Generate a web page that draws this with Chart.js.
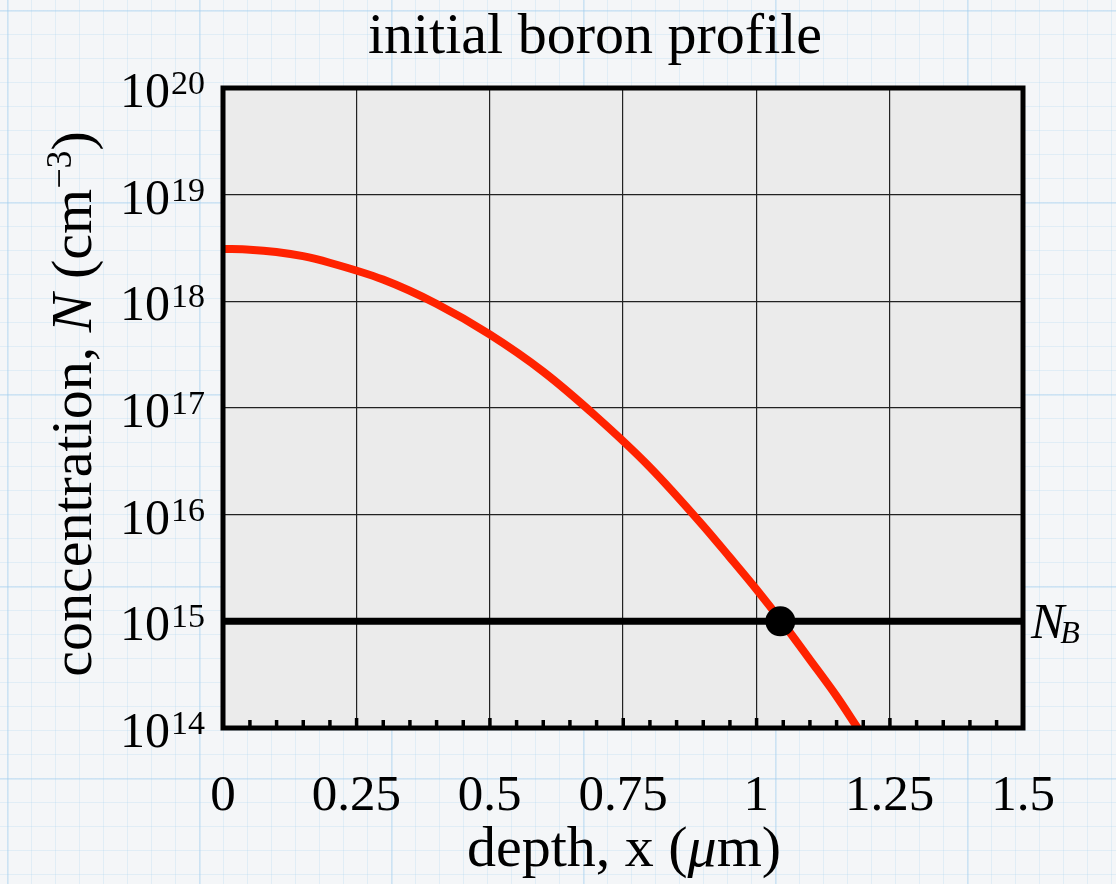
<!DOCTYPE html>
<html lang="en">
<head>
  <meta charset="UTF-8" />
  <title>initial boron profile</title>
  <script src="https://cdn.jsdelivr.net/npm/chart.js"></script>
  <style>
    html, body { margin: 0; padding: 0; }
    body {
      width: 1116px; height: 884px; overflow: hidden;
      background-color: #f4f6f8;
      background-image:
        linear-gradient(to right, rgba(160,205,238,0.3) 2px, transparent 2px),
        linear-gradient(to bottom, rgba(160,205,238,0.3) 2px, transparent 2px),
        linear-gradient(to right, rgba(175,212,240,0.28) 1px, transparent 1px),
        linear-gradient(to bottom, rgba(175,212,240,0.28) 1px, transparent 1px);
      background-size: 192px 192px, 192px 192px, 24px 24px, 24px 24px;
      background-position: 7px 10px;
    }
    #wrap { position: absolute; left: 0; top: 0; width: 1116px; height: 884px; }
  </style>
</head>
<body>
  <div id="wrap"><canvas id="profile" width="1116" height="884"></canvas></div>

  <script>
    // depth in um, concentration in cm^-3
    const depth = [0, 0.05, 0.1, 0.15, 0.2, 0.3, 0.4, 0.5, 0.6, 0.7, 0.8, 0.9, 0.95, 1.0, 1.05, 1.1, 1.15, 1.19];
    const conc  = [3.1e18, 3.05e18, 2.9e18, 2.65e18, 2.3e18, 1.6e18, 9.5e17, 4.9e17, 2.2e17, 8.3e16, 2.8e16, 7.9e15, 4.0e15, 2.0e15, 9.6e14, 4.4e14, 2.0e14, 1.0e14];

    const nB = 1e15;           // background doping
    const crossDepth = 1.045;  // junction depth marker

    const xTickVals = [0, 0.25, 0.5, 0.75, 1, 1.25, 1.5];
    const xTickLabels = ['0', '0.25', '0.5', '0.75', '1', '1.25', '1.5'];
    const yExponents = [14, 15, 16, 17, 18, 19, 20];

    const serif = '"Liberation Serif", "DejaVu Serif", serif';

    function drawParts(ctx, parts, x, y, size) {
      ctx.textAlign = 'left';
      parts.forEach(p => {
        ctx.font = p[1] + size + 'px ' + serif;
        ctx.fillText(p[0], x, y);
        x += ctx.measureText(p[0]).width;
      });
      return x;
    }
    function partsWidth(ctx, parts, size) {
      let w = 0;
      parts.forEach(p => { ctx.font = p[1] + size + 'px ' + serif; w += ctx.measureText(p[0]).width; });
      return w;
    }

    const decor = {
      id: 'decor',
      beforeDraw(chart) {
        const { ctx, chartArea: a } = chart;
        ctx.save();
        ctx.fillStyle = '#ebebeb';
        ctx.fillRect(a.left, a.top, a.right - a.left, a.bottom - a.top);
        ctx.restore();
      },
      afterDraw(chart) {
        const { ctx, chartArea: a } = chart;
        const xs = chart.scales.x, ys = chart.scales.y;
        ctx.save();

        // minor ticks along the bottom
        ctx.fillStyle = '#000';
        for (let i = 0; i <= 30; i++) {
          const px = xs.getPixelForValue(i * 0.05);
          const len = i % 5 === 0 ? 10 : 8;
          ctx.fillRect(px - 1.5, a.bottom - len, 3.5, len);
        }

        // frame
        ctx.strokeStyle = '#000';
        ctx.lineWidth = 5;
        ctx.strokeRect(a.left, a.top, a.right - a.left, a.bottom - a.top);

        // x tick labels
        ctx.fillStyle = '#000';
        ctx.font = '51px ' + serif;
        ctx.textAlign = 'center';
        ctx.textBaseline = 'alphabetic';
        xTickVals.forEach((v, i) => {
          ctx.fillText(xTickLabels[i], xs.getPixelForValue(v), 810);
        });

        // y tick labels 10^n
        yExponents.forEach(e => {
          const py = ys.getPixelForValue(Math.pow(10, e));
          ctx.font = '50px ' + serif;
          ctx.textAlign = 'right';
          ctx.fillText('10', 170, py + 19);
          ctx.font = '34px ' + serif;
          ctx.textAlign = 'left';
          ctx.fillText(String(e), 171, py + 6);
        });

        // title
        ctx.font = '58px ' + serif;
        ctx.textAlign = 'center';
        ctx.fillText('initial boron profile', 595, 53);

        // x title: depth, x (μm)
        const xParts = [['depth, x (', ''], ['\u03bc', 'italic '], ['m)', '']];
        drawParts(ctx, xParts, 624 - partsWidth(ctx, xParts, 58) / 2, 866, 58);

        // y title, rotated: concentration, N (cm^-3)
        ctx.save();
        ctx.translate(91, 404);
        ctx.rotate(-Math.PI / 2);
        const yParts = [['concentration, ', ''], ['N', 'italic '], [' (cm', '']];
        const w = partsWidth(ctx, yParts, 58);
        ctx.font = '36px ' + serif;
        const supW = ctx.measureText('\u22123').width;
        ctx.font = '58px ' + serif;
        const closeW = ctx.measureText(')').width;
        let cx = drawParts(ctx, yParts, -(w + supW + closeW) / 2, 0, 58);
        ctx.font = '36px ' + serif;
        ctx.fillText('\u22123', cx, -20);
        cx += supW;
        ctx.font = '58px ' + serif;
        ctx.fillText(')', cx, 0);
        ctx.restore();

        // N_B label
        const pyB = ys.getPixelForValue(nB);
        ctx.textAlign = 'left';
        ctx.font = 'italic 50px ' + serif;
        ctx.fillText('N', 1031, pyB + 17);
        const nw = ctx.measureText('N').width;
        ctx.font = 'italic 32px ' + serif;
        ctx.fillText('B', 1031 + nw - 4, pyB + 22);

        ctx.restore();
      }
    };

    const profile = depth.map((d, i) => ({ x: d, y: conc[i] }));

    new Chart(document.getElementById('profile'), {
      type: 'line',
      data: {
        datasets: [
          {
            label: 'N_B',
            data: [{ x: 0, y: nB }, { x: 1.5, y: nB }],
            borderColor: '#000',
            borderWidth: 7,
            pointRadius: 0,
            order: 3
          },
          {
            label: 'boron',
            data: profile,
            borderColor: '#ff2200',
            borderWidth: 8,
            pointRadius: 0,
            cubicInterpolationMode: 'monotone',
            order: 2
          },
          {
            label: 'junction',
            data: [{ x: crossDepth, y: nB }],
            showLine: false,
            pointRadius: 15,
            pointBackgroundColor: '#000',
            pointBorderWidth: 0,
            order: 1
          }
        ]
      },
      options: {
        responsive: false,
        animation: false,
        devicePixelRatio: 1,
        layout: { padding: { left: 223, top: 88, right: 93, bottom: 156 } },
        plugins: { legend: { display: false }, tooltip: { enabled: false } },
        scales: {
          x: {
            type: 'linear',
            min: 0, max: 1.5,
            afterBuildTicks: s => { s.ticks = xTickVals.map(v => ({ value: v })); },
            ticks: { display: false },
            grid: { color: '#222', lineWidth: 1.2, drawTicks: false },
            border: { display: false }
          },
          y: {
            type: 'logarithmic',
            min: 1e14, max: 1e20,
            afterBuildTicks: s => { s.ticks = yExponents.map(e => ({ value: Math.pow(10, e) })); },
            ticks: { display: false },
            grid: { color: '#222', lineWidth: 1.2, drawTicks: false },
            border: { display: false }
          }
        }
      },
      plugins: [decor]
    });
  </script>
</body>
</html>
